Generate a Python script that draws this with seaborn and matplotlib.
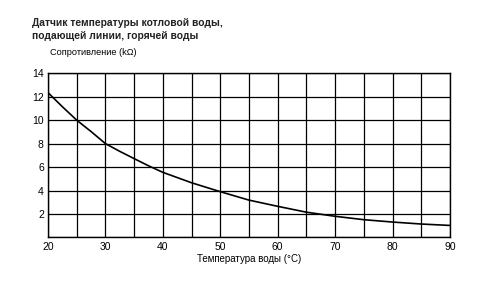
import matplotlib
matplotlib.use("Agg")
import matplotlib.pyplot as plt
import seaborn as sns
import pandas as pd

temperature = [20, 22.5, 25, 27.5, 30, 32.5, 35, 37.5, 40, 45, 50, 55, 60, 65, 70, 75, 80, 85, 90]
resistance = [12.35, 11.15, 10.0, 9.03, 8.0, 7.34, 6.72, 6.11, 5.55, 4.66, 3.9, 3.18, 2.65, 2.15, 1.8, 1.51, 1.31, 1.14, 1.02]
x_ticks = [20, 30, 40, 50, 60, 70, 80, 90]
y_ticks = [2, 4, 6, 8, 10, 12, 14]

title = "Датчик температуры котловой воды,\nподающей линии, горячей воды"
y_title = "Сопротивление (kΩ)"
x_title = "Температура воды (°C)"

sns.set_theme(style="white")
plt.rcParams['font.family'] = ['Liberation Sans', 'DejaVu Sans']

df = pd.DataFrame({"t": temperature, "r": resistance})

fig = plt.figure(figsize=(4.8, 2.92), dpi=100)
ax = fig.add_axes([0.1, 0.187, 0.8375, 0.562])

sns.lineplot(data=df, x="t", y="r", ax=ax, color="black", linewidth=1.2)

ax.set_xlim(20, 90)
ax.set_ylim(0, 14)
ax.set_xticks(list(range(20, 91, 5)))
ax.set_xticklabels([str(v) if v in x_ticks else "" for v in range(20, 91, 5)])
ax.set_yticks(list(range(0, 15, 2)))
ax.set_yticklabels([str(v) if v in y_ticks else "" for v in range(0, 15, 2)])
ax.grid(True, color="black", linewidth=0.9)
ax.tick_params(axis="both", length=0, labelsize=7.5, colors="black", pad=3)
for s in ax.spines.values():
    s.set_color("black")
    s.set_linewidth(1.0)
    s.set_visible(True)
ax.set_xlabel(x_title, fontsize=7, color="black", labelpad=2)
ax.set_ylabel("")

fig.text(32 / 480, 1 - 18 / 292, title, fontsize=7.4, fontweight="bold", ha="left", va="top",
         color="#222222", linespacing=1.35)
fig.text(50 / 480, 1 - 53 / 292, y_title, fontsize=6.6, ha="left", va="center", color="black")

fig.savefig("out.png", dpi=100, facecolor="white")
